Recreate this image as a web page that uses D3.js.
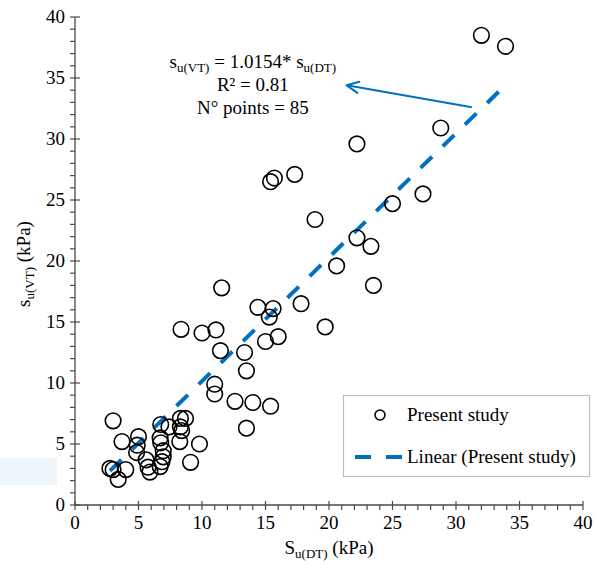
<!DOCTYPE html>
<html><head><meta charset="utf-8">
<script src="https://cdn.jsdelivr.net/npm/d3@7"></script>
<style>body{margin:0;background:#fff}svg{display:block}text{font-family:"Liberation Serif","Times New Roman",serif;fill:#000}</style>
</head><body>
<script>
// Data
const xValues = [32.0,33.9,28.8,22.2,15.4,15.7,17.3,27.4,25.0,18.9,22.2,23.3,20.6,23.5,11.55,14.4,15.6,15.3,17.8,19.7,8.35,10.0,11.1,11.45,13.35,15.0,16.0,13.5,11.0,11.0,12.6,14.0,15.4,13.5,
  3.0,3.7,5.0,4.9,4.85,6.75,7.4,6.7,6.75,6.95,6.95,6.85,6.7,5.6,5.75,5.9,2.75,3.0,4.0,3.4,8.3,8.7,8.3,8.4,8.25,9.8,9.1];
const yValues = [38.5,37.6,30.9,29.6,26.5,26.8,27.1,25.5,24.7,23.4,21.9,21.2,19.6,18.0,17.8,16.2,16.1,15.4,16.5,14.6,14.4,14.1,14.35,12.65,12.5,13.4,13.8,11.0,9.9,9.1,8.5,8.4,8.1,6.3,
  6.9,5.2,5.6,4.9,4.3,6.6,6.4,5.5,5.1,4.45,3.95,3.55,3.15,3.7,3.1,2.7,3.0,2.9,2.9,2.1,7.1,7.1,6.4,6.1,5.2,5.0,3.5];
const slope = 1.0154;
const xTicks = [0,5,10,15,20,25,30,35,40];
const yTicks = [0,5,10,15,20,25,30,35,40];
const annotationLines = ["R² = 0.81","N° points = 85"];
const legendLabels = ["Present study","Linear (Present study)"];

const W=595,H=573;
const svg=d3.select("body").append("svg").attr("width",W).attr("height",H);
svg.append("rect").attr("width",W).attr("height",H).attr("fill","#fff");
svg.append("rect").attr("x",0).attr("y",458).attr("width",57).attr("height",27).attr("fill","#eef5fb");

const x=d3.scaleLinear().domain([0,40]).range([75,583]);
const y=d3.scaleLinear().domain([0,40]).range([505,17]);
const axisColor="#4a4a4a";
const blue="#0070C0";
const FS=19;

// ticks
const minor=d3.range(0,41,1);
const g=svg.append("g");
g.selectAll(".mx").data(minor).join("line").attr("x1",d=>x(d)).attr("x2",d=>x(d))
  .attr("y1",d=>d%5===0?y(0)-4:y(0)).attr("y2",y(0)+5).attr("stroke",axisColor).attr("stroke-width",1.2);
g.selectAll(".my").data(minor).join("line").attr("y1",d=>y(d)).attr("y2",d=>y(d))
  .attr("x1",x(0)-5).attr("x2",d=>d%5===0?x(0)+5:x(0)).attr("stroke",axisColor).attr("stroke-width",1.2);
g.append("line").attr("x1",x(0)).attr("x2",x(40)).attr("y1",y(0)).attr("y2",y(0)).attr("stroke",axisColor).attr("stroke-width",1.3);
g.append("line").attr("x1",x(0)).attr("x2",x(0)).attr("y1",y(0)).attr("y2",y(40)).attr("stroke",axisColor).attr("stroke-width",1.3);

g.selectAll(".xl").data(xTicks).join("text").attr("x",d=>x(d)).attr("y",y(0)+24)
  .attr("text-anchor","middle").attr("font-size",FS).text(d=>d);
g.selectAll(".yl").data(yTicks).join("text").attr("x",x(0)-10).attr("y",d=>y(d)+6)
  .attr("text-anchor","end").attr("font-size",FS).text(d=>d);

// axis titles
const xt=svg.append("text").attr("x",(x(0)+x(40))/2).attr("y",554).attr("text-anchor","middle").attr("font-size",FS);
xt.append("tspan").text("S");
xt.append("tspan").attr("font-size",13).attr("dy",4).text("u(DT)");
xt.append("tspan").attr("dy",-4).text(" (kPa)");
const yt=svg.append("text").attr("transform",`translate(30,${(y(0)+y(40))/2+3}) rotate(-90)`).attr("text-anchor","middle").attr("font-size",FS);
yt.append("tspan").text("s");
yt.append("tspan").attr("font-size",13).attr("dy",4).text("u(VT)");
yt.append("tspan").attr("dy",-4).text(" (kPa)");

// trend line
const ext=d3.extent(xValues);
svg.append("line").attr("x1",x(ext[0])).attr("y1",y(slope*ext[0])).attr("x2",x(ext[1])).attr("y2",y(slope*ext[1]))
  .attr("stroke",blue).attr("stroke-width",4).attr("stroke-dasharray","16,15");

// points
const pts=xValues.map((v,i)=>({x:v,y:yValues[i]}));
svg.selectAll(".pt").data(pts).join("circle").attr("cx",d=>x(d.x)).attr("cy",d=>y(d.y)).attr("r",7.8)
  .attr("fill","none").attr("stroke","#000").attr("stroke-width",1.6);

// annotation
const ax=x(14.0);
const t1=svg.append("text").attr("x",ax).attr("y",68).attr("text-anchor","middle").attr("font-size",FS);
t1.append("tspan").text("s");
t1.append("tspan").attr("font-size",13).attr("dy",4).text("u(VT)");
t1.append("tspan").attr("dy",-4).text(" = 1.0154* s");
t1.append("tspan").attr("font-size",13).attr("dy",4).text("u(DT)");
svg.selectAll(".al").data(annotationLines).join("text").attr("x",ax).attr("y",(d,i)=>91+i*22.5)
  .attr("text-anchor","middle").attr("font-size",FS).text(d=>d);

// arrow
const a0=[x(31.24),y(32.6)], a1=[x(21.4),y(34.4)];
svg.append("line").attr("x1",a0[0]).attr("y1",a0[1]).attr("x2",a1[0]).attr("y2",a1[1]).attr("stroke",blue).attr("stroke-width",2);
const ang=Math.atan2(a0[1]-a1[1],a0[0]-a1[0]);
[0.45,-0.45].forEach(da=>{
  svg.append("line").attr("x1",a1[0]).attr("y1",a1[1])
    .attr("x2",a1[0]+13*Math.cos(ang+da)).attr("y2",a1[1]+13*Math.sin(ang+da))
    .attr("stroke",blue).attr("stroke-width",2).attr("stroke-linecap","round");
});

// legend
const lg=svg.append("g");
lg.append("rect").attr("x",343.5).attr("y",395.5).attr("width",246).attr("height",81).attr("fill","#fff").attr("stroke","#bfbfbf").attr("stroke-width",1.2);
lg.append("circle").attr("cx",380).attr("cy",415).attr("r",5).attr("fill","none").attr("stroke","#000").attr("stroke-width",1.6);
lg.append("line").attr("x1",355).attr("x2",402).attr("y1",457).attr("y2",457).attr("stroke",blue).attr("stroke-width",4).attr("stroke-dasharray","16,15");
lg.selectAll(".lt").data(legendLabels).join("text").attr("x",407).attr("y",(d,i)=>421+i*42).attr("font-size",FS).text(d=>d);
</script>
</body></html>
